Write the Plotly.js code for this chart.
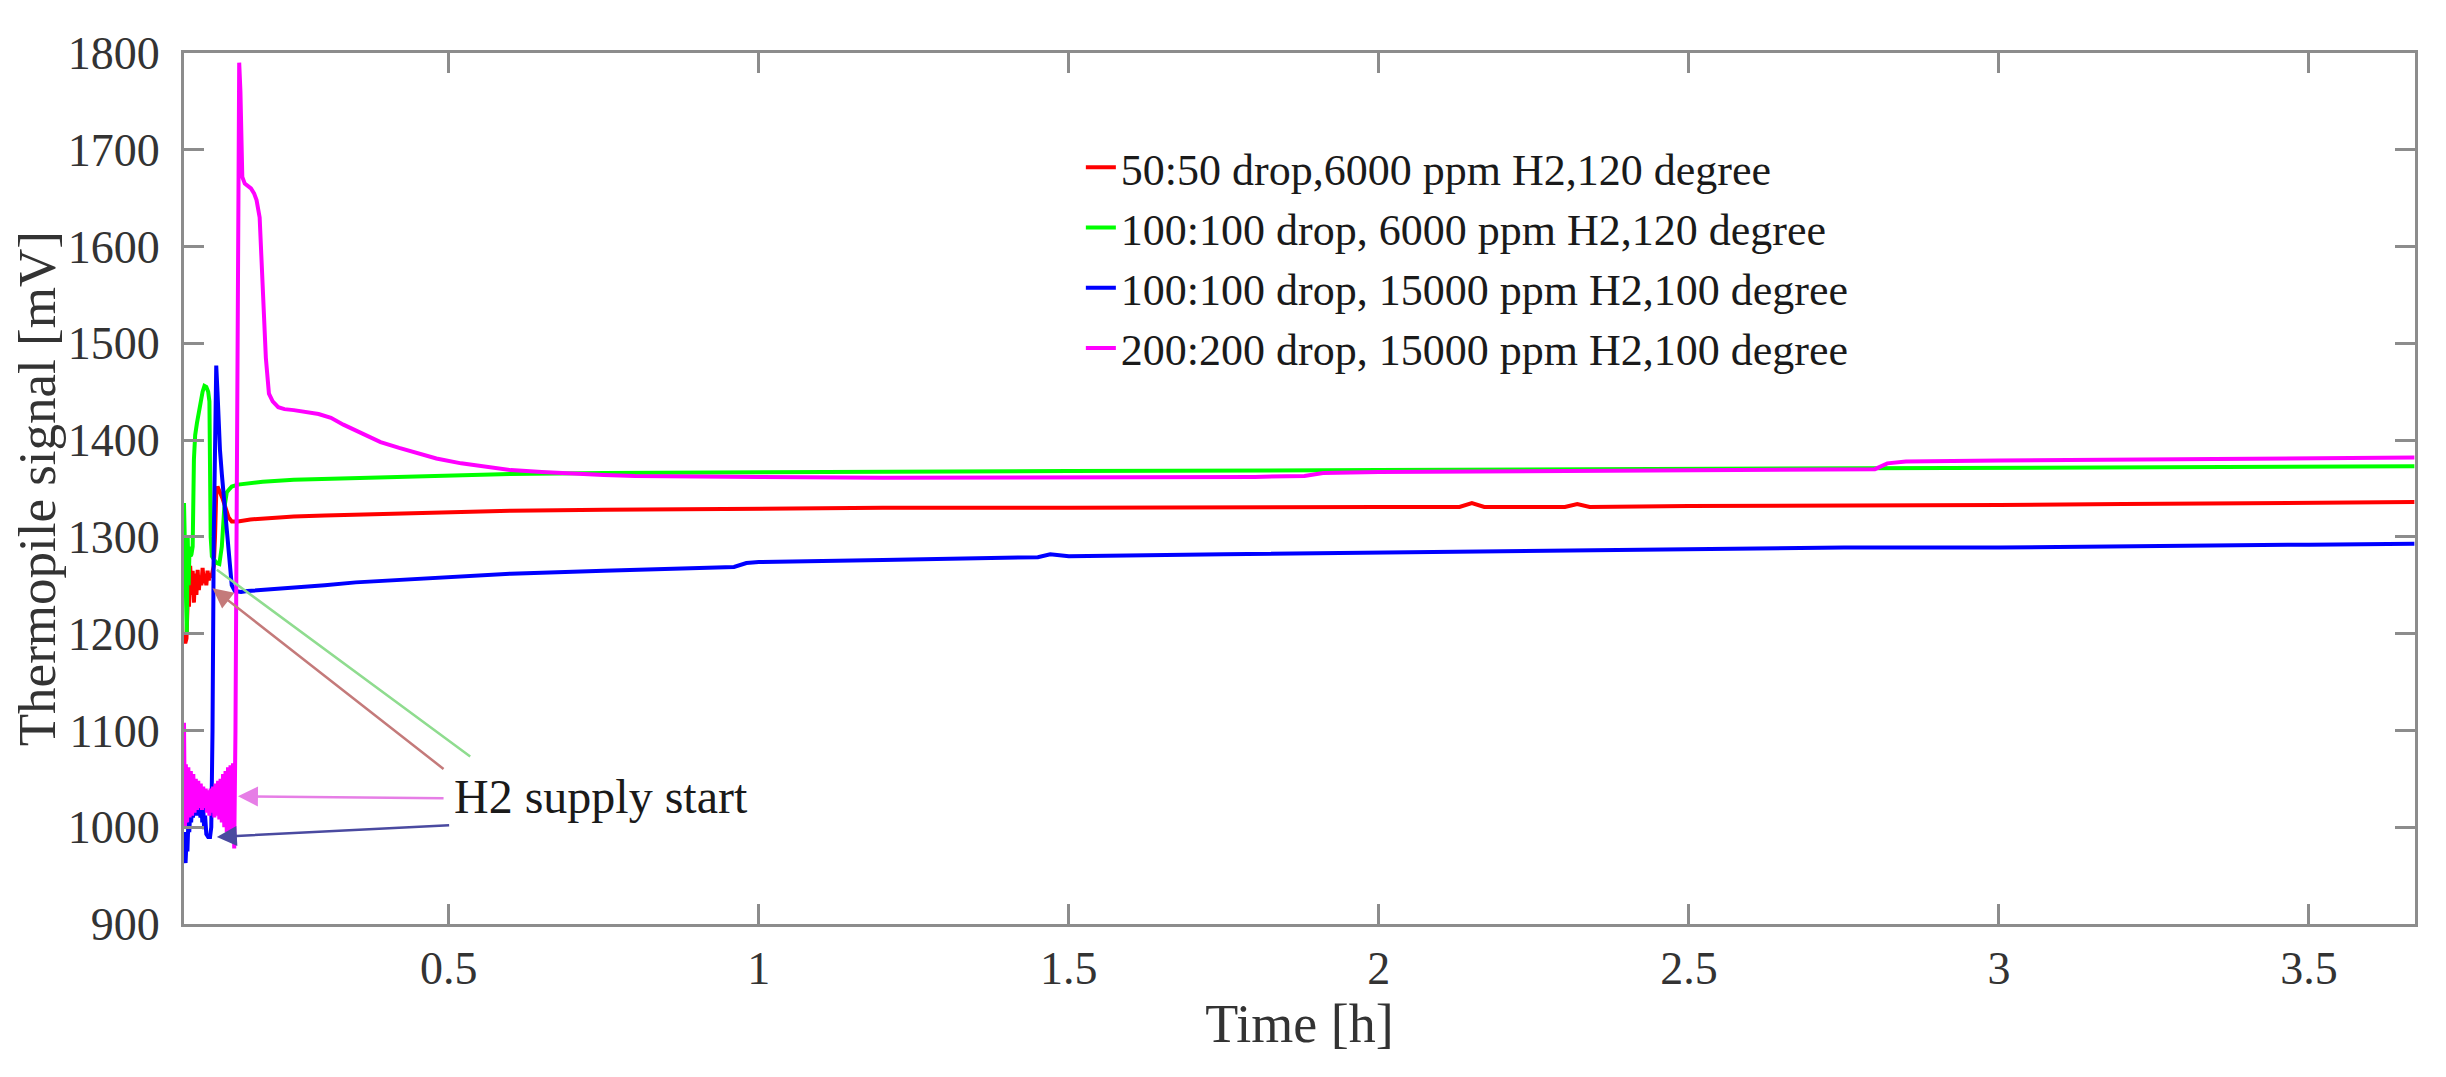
<!DOCTYPE html>
<html>
<head>
    <title>Thermopile signal vs time</title>
    <script src="https://cdn.plot.ly/plotly-3.0.1.min.js"></script>
    <style>
        html, body {
            margin: 0;
            padding: 0;
            background: #ffffff;
        }

        #plot {
            width: 2446px;
            height: 1077px;
        }
    </style>
</head>
<body>
    <div id="plot"></div>

    <script>
        // series names (legend)
        const seriesNames = [
            '50:50 drop,6000 ppm H2,120 degree',
            '100:100 drop, 6000 ppm H2,120 degree',
            '100:100 drop, 15000 ppm H2,100 degree',
            '200:200 drop, 15000 ppm H2,100 degree'
        ];

        // 50:50 drop, 6000 ppm, 120 degree (red)
        const redTime = [0.073, 0.075, 0.077, 0.079, 0.081, 0.083, 0.085, 0.087, 0.089, 0.091,
            0.093, 0.095, 0.097, 0.099, 0.101, 0.103, 0.105, 0.107, 0.109, 0.111,
            0.113, 0.115, 0.117, 0.119, 0.121, 0.123, 0.125, 0.127, 0.130, 0.135,
            0.140, 0.145, 0.150, 0.160, 0.18, 0.2, 0.25, 0.3, 0.4, 0.5,
            0.6, 0.75, 0.9, 1.0, 1.2, 1.5, 1.8, 2.0, 2.13, 2.15,
            2.17, 2.3, 2.32, 2.34, 2.5, 2.7, 3.0, 3.2, 3.4, 3.67];
        const redSignal = [1200, 1190, 1195, 1235, 1228, 1270, 1240, 1265, 1232, 1262,
            1240, 1266, 1245, 1260, 1250, 1268, 1252, 1262, 1250, 1265,
            1255, 1262, 1258, 1265, 1270, 1300, 1345, 1352, 1348, 1340,
            1330, 1320, 1316, 1316, 1318, 1319, 1321, 1322, 1324, 1326,
            1327, 1328, 1329, 1329, 1330, 1330, 1331, 1331, 1331, 1335,
            1331, 1331, 1334, 1331, 1332, 1332, 1333, 1334, 1335, 1336];

        // 100:100 drop, 6000 ppm, 120 degree (green)
        const greenTime = [0.073, 0.0745, 0.076, 0.0775, 0.079, 0.0805, 0.082, 0.0835, 0.085, 0.087,
            0.089, 0.091, 0.094, 0.097, 0.100, 0.103, 0.106, 0.109, 0.112, 0.114,
            0.116, 0.118, 0.122, 0.126, 0.130, 0.134, 0.138, 0.142, 0.147, 0.150,
            0.16, 0.18, 0.2, 0.25, 0.3, 0.4, 0.5, 0.6, 0.75, 1.0,
            1.25, 1.5, 2.0, 2.5, 3.0, 3.3, 3.67];
        const greenSignal = [1335, 1290, 1210, 1200, 1300, 1250, 1290, 1280, 1282, 1290,
            1380, 1405, 1418, 1430, 1442, 1450, 1456, 1455, 1450, 1440,
            1300, 1280, 1276, 1273, 1272, 1290, 1330, 1346, 1350, 1352,
            1354, 1356, 1357, 1359, 1360, 1362, 1364, 1365, 1366, 1367,
            1367, 1368, 1369, 1370, 1371, 1372, 1373];

        // 100:100 drop, 15000 ppm, 100 degree (blue)
        const blueTime = [0.073, 0.074, 0.0755, 0.077, 0.0785, 0.080, 0.0815, 0.083, 0.0845, 0.086,
            0.0875, 0.089, 0.0905, 0.092, 0.0935, 0.095, 0.0965, 0.098, 0.0995, 0.101,
            0.1025, 0.104, 0.1055, 0.107, 0.109, 0.112, 0.115, 0.117, 0.119, 0.121,
            0.123, 0.125, 0.127, 0.129, 0.131, 0.134, 0.140, 0.145, 0.150, 0.155,
            0.165, 0.175, 0.2, 0.25, 0.3, 0.35, 0.4, 0.5, 0.6, 0.75,
            0.9, 0.96, 0.98, 1.0, 1.2, 1.45, 1.47, 1.5, 1.75, 2.0,
            2.25, 2.5, 2.75, 3.0, 3.25, 3.5, 3.67];
        const blueSignal = [995, 970, 963, 985, 975, 1005, 995, 1015, 1005, 1020,
            1010, 1030, 1015, 1028, 1012, 1036, 1018, 1030, 1010, 1028,
            1005, 1020, 998, 1012, 993, 990, 990, 1000, 1100, 1300,
            1440, 1477, 1450, 1400, 1390, 1365, 1320, 1285, 1250, 1244,
            1243, 1244, 1245, 1248, 1250, 1253, 1255, 1259, 1262, 1265,
            1268, 1269, 1273, 1274, 1276, 1279, 1282, 1280, 1282, 1284,
            1286, 1288, 1289, 1289, 1290, 1292, 1293];

        // 200:200 drop, 15000 ppm, 100 degree (magenta)
        const magentaTime = [0.073, 0.0745, 0.076, 0.078, 0.080, 0.082, 0.084, 0.086, 0.088, 0.090,
            0.092, 0.094, 0.096, 0.098, 0.100, 0.102, 0.104, 0.106, 0.108, 0.110,
            0.112, 0.114, 0.116, 0.118, 0.120, 0.122, 0.124, 0.126, 0.128, 0.130,
            0.132, 0.134, 0.136, 0.138, 0.140, 0.142, 0.144, 0.146, 0.148, 0.150,
            0.152, 0.154, 0.156, 0.158, 0.160, 0.162, 0.164, 0.167, 0.171, 0.176,
            0.181, 0.186, 0.190, 0.195, 0.200, 0.205, 0.210, 0.216, 0.225, 0.235,
            0.25, 0.27, 0.29, 0.31, 0.33, 0.36, 0.39, 0.42, 0.45, 0.48,
            0.52, 0.56, 0.6, 0.65, 0.7, 0.75, 0.8, 0.9, 1.0, 1.2,
            1.4, 1.6, 1.8, 1.88, 1.91, 2.0, 2.2, 2.4, 2.6, 2.8,
            2.82, 2.85, 3.0, 3.2, 3.4, 3.67];
        const magentaSignal = [1108, 1000, 1065, 1005, 1062, 1010, 1058, 1012, 1055, 1015,
            1050, 1018, 1048, 1020, 1045, 1018, 1042, 1020, 1040, 1015,
            1038, 1012, 1040, 1015, 1042, 1010, 1045, 1012, 1048, 1008,
            1050, 1005, 1055, 1000, 1058, 995, 1062, 990, 1064, 985,
            1066, 978, 1100, 1400, 1700, 1790, 1760, 1672, 1665, 1662,
            1660, 1655, 1648, 1630, 1565, 1485, 1448, 1440, 1434, 1432,
            1431, 1429, 1427, 1423, 1416, 1407, 1398, 1392, 1386, 1381,
            1376, 1372, 1369, 1367, 1365, 1364, 1363, 1362, 1362, 1361,
            1361, 1361, 1362, 1363, 1366, 1367, 1368, 1369, 1369, 1370,
            1376, 1378, 1379, 1380, 1381, 1382];

        // axis ticks
        const xTicks = [0.5, 1, 1.5, 2, 2.5, 3, 3.5];
        const xTickLabels = ['0.5', '1', '1.5', '2', '2.5', '3', '3.5'];
        const yTicks = [900, 1000, 1100, 1200, 1300, 1400, 1500, 1600, 1700, 1800];

        // "H2 supply start" pointers: head (time, signal) and tail (time, signal)
        const pointerHeadTime = [0.126, 0.119, 0.160, 0.126];
        const pointerHeadSignal = [1266, 1247, 1032, 990];
        const pointerTailTime = [0.537, 0.494, 0.494, 0.503];
        const pointerTailSignal = [1072, 1059, 1030, 1002];
        const labelTime = 0.506;
        const labelSignal = 1032;

        const lineColors = ['#ff0000', '#00ff00', '#0000ff', '#ff00ff'];
        const pointerColors = ['#8fdc8f', '#c47a7a', '#e67ee6', '#4a4aa0'];
        const font = '"Liberation Serif", "Times New Roman", serif';
        const axisGrey = '#8c8c8c';

        const xs = [redTime, greenTime, blueTime, magentaTime];
        const ys = [redSignal, greenSignal, blueSignal, magentaSignal];

        const data = seriesNames.map((name, i) => ({
            x: xs[i],
            y: ys[i],
            type: 'scatter',
            mode: 'lines',
            name: name,
            line: { color: lineColors[i], width: 4 }
        }));

        const annotations = pointerHeadTime.map((t, i) => ({
            x: t,
            y: pointerHeadSignal[i],
            ax: pointerTailTime[i],
            ay: pointerTailSignal[i],
            xref: 'x', yref: 'y', axref: 'x', ayref: 'y',
            text: '',
            showarrow: true,
            arrowhead: i === 0 ? 0 : 2,
            arrowsize: 1.6,
            arrowwidth: 2.5,
            arrowcolor: pointerColors[i],
            standoff: 0
        }));

        annotations.push({
            x: labelTime,
            y: labelSignal,
            xref: 'x', yref: 'y',
            xanchor: 'left',
            yanchor: 'middle',
            text: 'H2 supply start',
            showarrow: false,
            font: { family: font, size: 48, color: '#1a1a1a' }
        });

        // y axis title, placed by hand so it sits where the reference has it
        annotations.push({
            x: -0.066,
            y: 0.5,
            xref: 'paper', yref: 'paper',
            xanchor: 'center',
            yanchor: 'middle',
            textangle: -90,
            text: 'Thermopile signal [mV]',
            showarrow: false,
            font: { family: font, size: 53, color: '#333333' }
        });

        const axisStyle = {
            ticks: 'inside',
            ticklen: 20,
            tickwidth: 3,
            tickcolor: axisGrey,
            showline: true,
            linewidth: 3,
            linecolor: axisGrey,
            mirror: 'ticks',
            showgrid: false,
            zeroline: false,
            tickfont: { family: font, size: 46, color: '#333333' }
        };

        const layout = {
            width: 2446,
            height: 1077,
            margin: { l: 184, r: 31, t: 53, b: 153 },
            paper_bgcolor: 'white',
            plot_bgcolor: 'white',
            font: { family: font, color: '#262626' },
            showlegend: true,
            legend: {
                x: 0.402,
                y: 0.909,
                xanchor: 'left',
                yanchor: 'top',
                bgcolor: 'rgba(0,0,0,0)',
                borderwidth: 0,
                font: { family: font, size: 44, color: '#1a1a1a' },
                itemwidth: 30,
                tracegroupgap: 0
            },
            xaxis: Object.assign({}, axisStyle, {
                range: [0.073, 3.671],
                tickvals: xTicks,
                ticktext: xTickLabels,
                ticklabelstandoff: 2,
                title: { text: 'Time [h]', font: { family: font, size: 54, color: '#333333' }, standoff: 4 }
            }),
            yaxis: Object.assign({}, axisStyle, {
                range: [900, 1800],
                tickvals: yTicks,
                ticklabelstandoff: 12
            }),
            annotations: annotations
        };

        Plotly.newPlot('plot', data, layout, { displayModeBar: false, staticPlot: true });
    </script>
</body>
</html>
